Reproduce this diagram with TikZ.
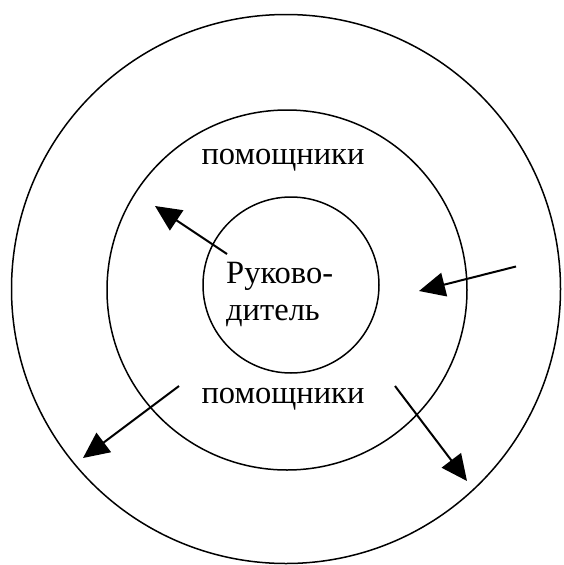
\documentclass[tikz,border=0pt]{standalone}
\usepackage{fontspec}
\setmainfont{Liberation Serif}
\usetikzlibrary{arrows.meta}
\begin{document}
\begin{tikzpicture}[x=1pt,y=-1pt,
  ring/.style={draw=black,line width=1.5pt,circle,inner sep=0pt,fill=none},
  lbl/.style={inner sep=0pt,font=\fontsize{32.5}{37}\selectfont},
  arr/.style={draw=black,line width=2pt,-{Triangle[length=26pt,width=24pt]}}]
\useasboundingbox (0,0) rectangle (563,565);
\node[ring,minimum size=549pt] (outer) at (286,289) {};
\node[ring,minimum size=360pt] (middle) at (287,290) {};
\node[ring,minimum size=176pt] (inner) at (291,285) {};
\node[lbl,anchor=base] (top) at (283,164.5) {помощники};
\node[lbl,anchor=base] (bottom) at (283,403) {помощники};
\node[lbl,anchor=base west] (ruk1) at (226,283.7) {Руково-};
\node[lbl,anchor=base west] (ruk2) at (226,320.6) {дитель};
\coordinate (a1s) at (227,254);
\coordinate (a1e) at (155,206);
\coordinate (a2s) at (516,266.5);
\coordinate (a2e) at (419,291);
\coordinate (a3s) at (179,386);
\coordinate (a3e) at (83,458);
\coordinate (a4s) at (395,386);
\coordinate (a4e) at (467,481);
\draw[arr] (a1s) -- (a1e);
\draw[arr] (a2s) -- (a2e);
\draw[arr] (a3s) -- (a3e);
\draw[arr] (a4s) -- (a4e);
\end{tikzpicture}
\end{document}
